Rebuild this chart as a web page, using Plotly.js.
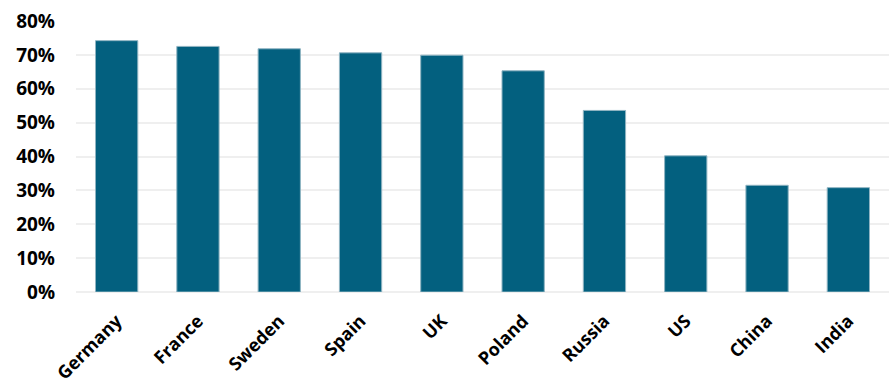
<!DOCTYPE html>
<html>
<head>
<meta charset="utf-8">
<script src="https://cdn.plot.ly/plotly-3.0.1.min.js"></script>
<style>html,body{margin:0;padding:0;background:#fff;}#chart{width:889px;height:383px;}</style>
</head>
<body>
<div id="chart"></div>
<script>
const countries = ["Germany","France","Sweden","Spain","UK","Poland","Russia","US","China","India"];
const shares = [0.742, 0.725, 0.718, 0.706, 0.699, 0.653, 0.536, 0.402, 0.315, 0.308];
const yTicks = [0, 0.1, 0.2, 0.3, 0.4, 0.5, 0.6, 0.7, 0.8];

Plotly.newPlot("chart", [{
  type: "bar",
  x: countries,
  y: shares,
  marker: {color: "#03607f", line: {color: "#8fb4c2", width: 1}},
  hoverinfo: "x+y"
}], {
  width: 889, height: 383,
  margin: {l: 76, r: 0, t: 21, b: 91},
  bargap: 0.48,
  paper_bgcolor: "#fff", plot_bgcolor: "#fff",
  font: {family: "Open Sans, sans-serif", color: "#000"},
  xaxis: {
    tickangle: -45,
    tickfont: {size: 18, weight: "bold", family: "Open Sans, sans-serif"},
    ticklabelstandoff: 14,
    showgrid: false, showline: false, ticks: ""
  },
  yaxis: {
    range: [0, 0.8],
    tickvals: yTicks,
    tickformat: ".0%",
    tickfont: {size: 19, weight: "bold", family: "Open Sans, sans-serif"},
    gridcolor: "#efefef", gridwidth: 1.5,
    zeroline: true, zerolinecolor: "#efefef", zerolinewidth: 1.5,
    ticklabelstandoff: 20,
    showline: false
  },
  showlegend: false
}, {displayModeBar: false});
</script>
</body>
</html>
